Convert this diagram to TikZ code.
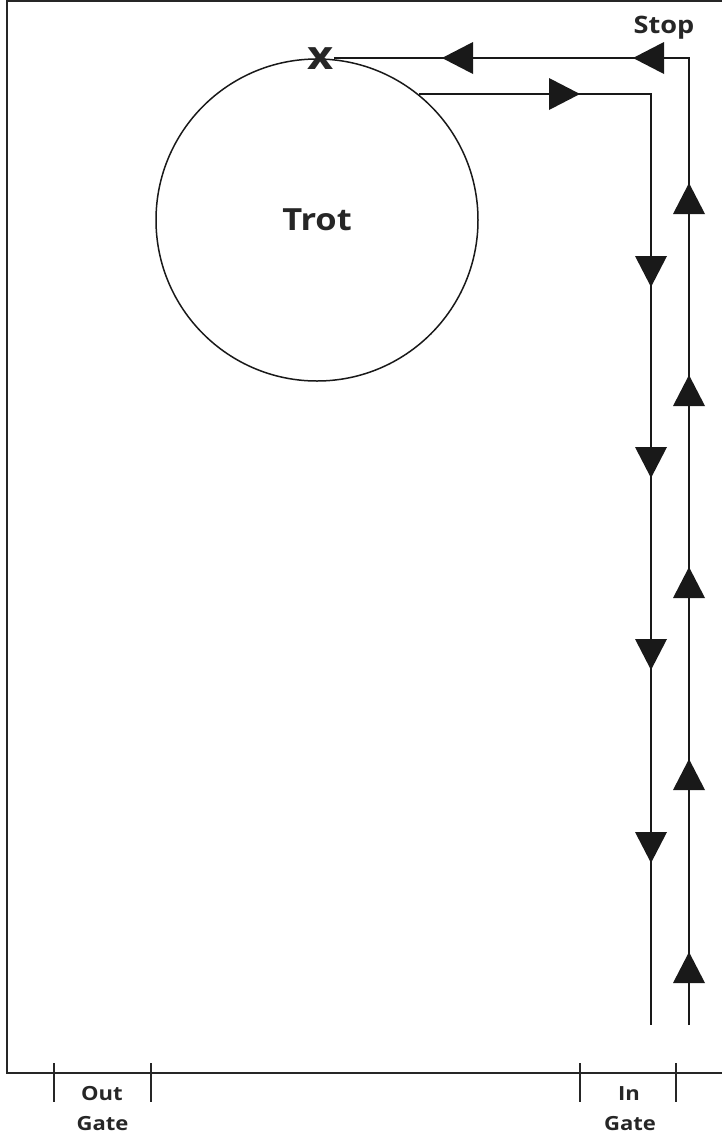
\documentclass[tikz,border=0pt]{standalone}
\usepackage{fontspec}
\setmainfont{Open Sans}[FakeStretch=1.13]
\begin{document}
\begin{tikzpicture}[x=1pt,y=-1pt,
  frame/.style={line width=2.5pt, draw=black!85},
  route/.style={line width=2pt, draw=black!90},
  tri/.style={fill=black!90},
  tick/.style={line width=2pt, draw=black!85},
  lbl/.style={font=\bfseries\fontsize{19.5}{20}\selectfont, inner sep=0pt, anchor=base, text=black!85}]
\useasboundingbox (0,0) rectangle (722,1133);
% frame
\coordinate (ftr) at (722,1);
\coordinate (ftl) at (7,1);
\coordinate (fbl) at (7,1073);
\coordinate (fbr) at (722,1073);
\draw[frame] (ftr) -- (ftl) -- (fbl) -- (fbr);
% gate ticks
\foreach \gx/\nm in {54/og1,151/og2,580/ig1,676/ig2}{
  \coordinate (\nm t) at (\gx,1063);
  \coordinate (\nm b) at (\gx,1102);
  \draw[tick] (\nm t) -- (\nm b);
}
\node[lbl] (out) at (102,1100) {Out};
\node[lbl] (gateo) at (102.5,1130) {Gate};
\node[lbl] (in) at (629,1100) {In};
\node[lbl] (gatei) at (630,1130) {Gate};
% circle
\node[circle, draw=black!90, line width=1.5pt, minimum size=322pt, inner sep=0pt,
      font=\bfseries\fontsize{30.5}{32}\selectfont, text=black!85] (trot) at (317,220) {Trot};
% x mark
\node[inner sep=0pt, font=\bfseries\fontsize{40}{44}\selectfont, text=black!85] (xm) at (321,59) {x};
% stop
\node[inner sep=0pt, anchor=base, font=\bfseries\fontsize{24}{25}\selectfont, text=black!85] (stop) at (664,33) {Stop};
% return path
\coordinate (a1) at (689,1025);
\coordinate (a2) at (689,58);
\draw[route] (a1) -- (a2) -- (a2 -| xm.east);
% outgoing path
\coordinate (s2) at (trot.51);
\coordinate (c2) at (651,0);
\coordinate (b2) at (651,1025);
\draw[route] (s2) -- (s2 -| c2) -- (b2);
% arrowheads
\foreach \t in {183,375,567,759,952}
  \fill[tri] (689,\t) -- ++(-16,31) -- ++(32,0) -- cycle;
\foreach \b in {256,447,639,832}
  \fill[tri] (651,\b+31) -- ++(-16,-31) -- ++(32,0) -- cycle;
\foreach \t in {442,633}
  \fill[tri] (\t,58) -- ++(31,-16) -- ++(0,32) -- cycle;
\fill[tri] (580,94) -- ++(-31,-16) -- ++(0,32) -- cycle;
\end{tikzpicture}
\end{document}
